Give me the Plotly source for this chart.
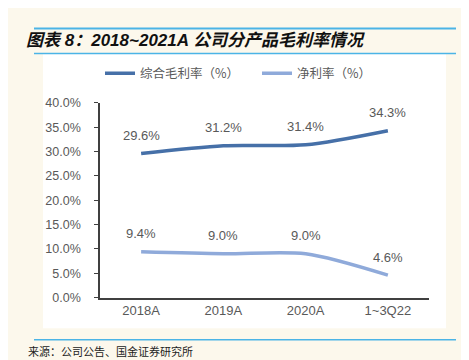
import plotly.graph_objects as go

categories = ["2018A", "2019A", "2020A", "1~3Q22"]
gross_margin = [29.6, 31.2, 31.4, 34.3]
net_margin = [9.4, 9.0, 9.0, 4.6]
series_names = ["综合毛利率（%）", "净利率（%）"]
y_ticks = [0, 5, 10, 15, 20, 25, 30, 35, 40]

W, H = 469, 360
def px(x): return x / W
def py(y): return 1 - y / H

FONT = "Liberation Sans, Arial, Noto Sans CJK SC, sans-serif"
CJK = "Noto Sans CJK SC, sans-serif"
GRAY = "#595959"

fig = go.Figure()
fig.add_trace(go.Scatter(
    x=categories, y=gross_margin, name=series_names[0], mode="lines",
    line=dict(color="#4670A8", width=3.5, shape="spline", smoothing=0.8)))
fig.add_trace(go.Scatter(
    x=categories, y=net_margin, name=series_names[1], mode="lines",
    line=dict(color="#8FAADA", width=3.5, shape="spline", smoothing=0.8)))

shapes = [
    dict(type="rect", xref="paper", yref="paper", x0=px(35), x1=px(438), y0=py(326), y1=py(40),
         fillcolor="white", line=dict(width=0), layer="below"),
    dict(type="line", xref="paper", yref="paper", x0=px(26), x1=px(448), y0=py(14), y1=py(14),
         line=dict(color="#4BB4E6", width=2)),
    dict(type="line", xref="paper", yref="paper", x0=px(26), x1=px(448), y0=py(40), y1=py(40),
         line=dict(color="#4BB4E6", width=1.5), layer="below"),
    dict(type="line", xref="paper", yref="paper", x0=px(26), x1=px(448), y0=py(338), y1=py(338),
         line=dict(color="#4BB4E6", width=1.5)),
]

annotations = [
    dict(text="<b><i>图表 8：2018~2021A 公司分产品毛利率情况</i></b>", xref="paper", yref="paper",
         x=px(16), y=py(27), xanchor="left", yanchor="middle", showarrow=False,
         font=dict(size=17, color="#111111", family=FONT)),
    dict(text="来源：公司公告、国金证券研究所", xref="paper", yref="paper",
         x=px(18), y=py(350), xanchor="left", yanchor="middle", showarrow=False,
         font=dict(size=11, color="#222222", family=CJK)),
]
for series in (gross_margin, net_margin):
    for c, v in zip(categories, series):
        annotations.append(dict(text=f"{v:.1f}%", x=c, y=v, xref="x", yref="y",
                                yshift=18, yanchor="middle", showarrow=False,
                                font=dict(size=13, color=GRAY, family=FONT)))

fig.update_layout(
    width=W, height=H, margin=dict(l=0, r=0, t=0, b=0),
    paper_bgcolor="#FCF8EC", plot_bgcolor="white",
    shapes=shapes, annotations=annotations,
    legend=dict(orientation="h", x=px(92), y=py(61), xanchor="left", yanchor="middle",
                font=dict(size=12.5, color=GRAY, family=CJK), bgcolor="rgba(0,0,0,0)",
                entrywidth=112, entrywidthmode="pixels", tracegroupgap=0),
    xaxis=dict(domain=[px(92), px(421)], range=[-0.5, 3.5], showgrid=False, showline=True,
               linecolor="#404040", linewidth=1.5, ticks="",
               tickfont=dict(size=13, color=GRAY, family=FONT),
               zeroline=False, fixedrange=True),
    yaxis=dict(domain=[py(294), py(91.5)], range=[0, 40], tickvals=y_ticks,
               ticktext=[f"{v:.1f}%" for v in y_ticks], showgrid=False, showline=True,
               linecolor="#404040", linewidth=1.5, ticks="outside", ticklen=4,
               tickcolor="#404040", tickfont=dict(size=12.5, color=GRAY, family=FONT),
               ticklabelstandoff=11, zeroline=False),
    showlegend=True,
)

fig.write_html("out.html")
